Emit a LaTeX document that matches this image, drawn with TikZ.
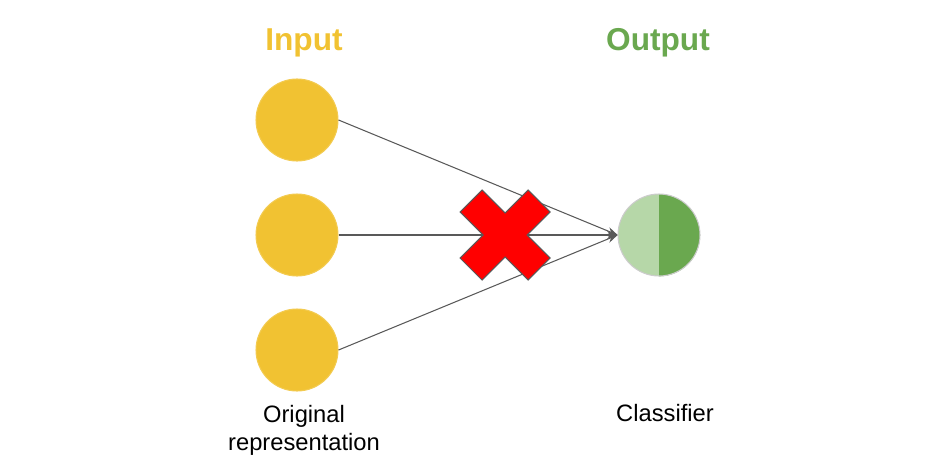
\documentclass[tikz,border=0pt]{standalone}
\usepackage{fontspec}
\setmainfont{Liberation Sans}
\usetikzlibrary{arrows.meta}
\definecolor{inyellow}{HTML}{F1C232}
\definecolor{outdark}{HTML}{6AA84F}
\definecolor{outlight}{HTML}{B6D7A8}
\definecolor{edgegray}{HTML}{595959}
\begin{document}
\begin{tikzpicture}[
  unit/.style={circle, minimum size=1.64cm, inner sep=0pt},
  inunit/.style={unit, fill=inyellow, draw=inyellow!85!white, line width=0.6pt},
  link/.style={draw=edgegray, line width=0.6pt, -{Stealth[length=6pt,width=4.5pt]}},
  title/.style={font=\bfseries\fontsize{18}{22}\selectfont},
  caption/.style={font=\fontsize{13.5}{16}\selectfont, align=center}
]
\useasboundingbox (0,0) rectangle (18.6,9.4);
\node[title, text=inyellow] (intitle) at (6.08,8.54) {Input};
\node[title, text=outdark] (outtitle) at (13.16,8.54) {Output};
\node[inunit] (in1) at (5.94,7.00) {};
\node[inunit] (in2) at (5.94,4.70) {};
\node[inunit] (in3) at (5.94,2.40) {};
\node[unit, fill=outlight] (out) at (13.18,4.70) {};
\fill[outdark] (out.south) arc[start angle=-90, end angle=90, radius=0.82cm] -- cycle;
\draw[black!20, line width=0.6pt] (out) circle[radius=0.82cm];
\draw[link] (in1.east) -- (out.west);
\draw[link] (in2.east) -- (out.west);
\draw[link] (in3.east) -- (out.west);
\draw[shift={(10.10,4.70)}, fill=red, draw=edgegray, line width=0.6pt]
  (0,0.44) -- (0.46,0.90) -- (0.90,0.46) -- (0.44,0) -- (0.90,-0.46) -- (0.46,-0.90)
  -- (0,-0.44) -- (-0.46,-0.90) -- (-0.90,-0.46) -- (-0.44,0) -- (-0.90,0.46) -- (-0.46,0.90) -- cycle;
\node[caption] (inlabel) at (6.08,0.80) {Original\\representation};
\node[caption] (outlabel) at (13.30,1.14) {Classifier};
\end{tikzpicture}
\end{document}
